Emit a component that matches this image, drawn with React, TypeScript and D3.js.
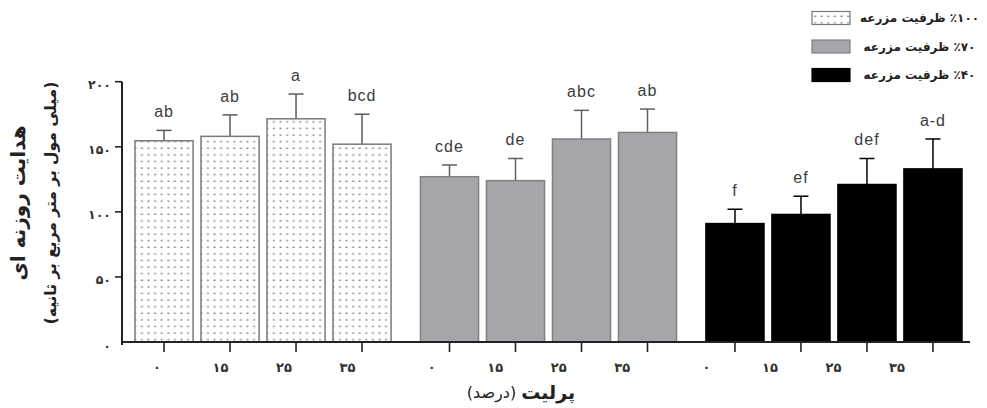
import React from "react";
import * as d3 from "d3";

// field capacity groups (legend order) and perlite levels (x ticks)
const groups = ["100", "70", "40"];
const legendLabels = ["٪۱۰۰ ظرفیت مزرعه", "٪۷۰ ظرفیت مزرعه", "٪۴۰ ظرفیت مزرعه"];
const perlite = ["0", "15", "25", "35"];
const perliteLabels = ["۰", "۱۵", "۲۵", "۳۵"];

// stomatal conductance (mmol m-2 s-1)
const mean100 = [154.6, 158, 171.5, 152];
const err100 = [8, 16.5, 19, 23];
const mean70 = [127, 124, 156, 161];
const err70 = [9, 17, 22, 18];
const mean40 = [91, 98, 121, 133];
const err40 = [11, 14, 20, 23];

const letters100 = ["ab", "ab", "a", "bcd"];
const letters70 = ["cde", "de", "abc", "ab"];
const letters40 = ["f", "ef", "def", "a-d"];

const yTicks = [0, 50, 100, 150, 200];
const yTickLabels = ["۰", "۵۰", "۱۰۰", "۱۵۰", "۲۰۰"];

const means = [mean100, mean70, mean40];
const errs = [err100, err70, err40];
const letters = [letters100, letters70, letters40];

const W = 987;
const H = 408;
const FA = "'DejaVu Sans', sans-serif";

const styles = [
  { fill: "url(#dots)", stroke: "#7a7a7a", err: "#5a5a5a" },
  { fill: "#a6a6aa", stroke: "#808084", err: "#606060" },
  { fill: "#000000", stroke: "#000000", err: "#000000" },
];

export default function App() {
  const axisX = 122;
  const y = d3.scaleLinear().domain([0, 200]).range([342, 81.7]);
  const x0 = d3.scaleBand<string>().domain(groups).range([135, 962]).paddingInner(0.103);
  const x1 = d3.scaleBand<string>().domain(perlite).range([0, x0.bandwidth()]).paddingInner(0.12);
  const bw = x1.bandwidth();
  const center = (g: string, p: string) => (x0(g) as number) + (x1(p) as number) + bw / 2;

  // tick labels in the figure sit on a slightly tighter spacing than the bars
  const c0 = center(groups[0], perlite[0]);
  const c1 = center(groups[2], perlite[3]);
  const labelX = d3.scaleLinear().domain([c0, c1]).range([c0 - 7, c1 - 36]);

  const y0 = y(0);

  return (
    <svg
      width={W}
      height={H}
      style={{ position: "absolute", left: 0, top: 0, background: "#fff" }}
    >
      <defs>
        <pattern id="dots" width={6.6} height={6.6} patternUnits="userSpaceOnUse">
          <rect width={6.6} height={6.6} fill="#fff" />
          <rect x={2.4} y={2.4} width={1.8} height={1.4} fill="#7c7c7c" />
        </pattern>
      </defs>

      {/* bars */}
      {groups.map((g, gi) =>
        perlite.map((p, i) => {
          const cx = center(g, p);
          const top = y(means[gi][i]);
          const cap = y(means[gi][i] + errs[gi][i]);
          const st = styles[gi];
          return (
            <g key={g + p}>
              <line x1={cx} x2={cx} y1={top} y2={cap} stroke={st.err} strokeWidth={1.5} />
              <line x1={cx - 7.5} x2={cx + 7.5} y1={cap} y2={cap} stroke={st.err} strokeWidth={1.5} />
              <rect
                x={(x0(g) as number) + (x1(p) as number)}
                y={top}
                width={bw}
                height={y0 - top}
                fill={st.fill}
                stroke={st.stroke}
                strokeWidth={1.5}
              />
              <text
                x={cx}
                y={cap - 13}
                textAnchor="middle"
                fontFamily="'Liberation Sans', Arial, sans-serif"
                fontSize={16}
                letterSpacing={1}
                fill="#3c3c3c"
              >
                {letters[gi][i]}
              </text>
            </g>
          );
        })
      )}

      {/* y axis */}
      <line x1={axisX} x2={axisX} y1={y(200)} y2={y0 + 3} stroke="#222" strokeWidth={2} />
      {yTicks.map((t, i) => (
        <g key={t}>
          {t > 0 && <line x1={axisX - 7} x2={axisX} y1={y(t)} y2={y(t)} stroke="#222" strokeWidth={1.6} />}
          <text
            x={axisX - 11}
            y={y(t) + 4}
            textAnchor="end"
            dominantBaseline="middle"
            fontFamily={FA}
            fontWeight="bold"
            fontSize={12.5}
            fill="#333"
          >
            {yTickLabels[i]}
          </text>
        </g>
      ))}

      {/* x axis */}
      <line x1={axisX - 1} x2={970} y1={y0} y2={y0} stroke="#222" strokeWidth={2} />
      {groups.map((g) =>
        perlite.map((p, i) => {
          const cx = center(g, p);
          return (
            <g key={"t" + g + p}>
              <line x1={cx} x2={cx} y1={y0} y2={y0 + 10} stroke="#222" strokeWidth={1.6} />
              <text
                x={labelX(cx)}
                y={y0 + 30}
                textAnchor="middle"
                fontFamily={FA}
                fontWeight="bold"
                fontSize={13}
                fill="#333"
              >
                {perliteLabels[i]}
              </text>
            </g>
          );
        })
      )}

      {/* axis titles */}
      <text
        x={521}
        y={392}
        textAnchor="middle"
        dominantBaseline="central"
        direction="rtl"
        fontFamily={FA}
        fill="#222"
      >
        <tspan fontWeight="bold" fontSize={19}>پرلیت</tspan>
        <tspan fontSize={16}> (درصد)</tspan>
      </text>
      <text
        transform="translate(18,203) rotate(-90)"
        textAnchor="middle"
        dominantBaseline="central"
        direction="rtl"
        fontFamily={FA}
        fontWeight="bold"
        fontSize={20}
        fill="#222"
      >
        هدایت روزنه ای
      </text>
      <text
        transform="translate(51,203) rotate(-90)"
        textAnchor="middle"
        dominantBaseline="central"
        direction="rtl"
        fontFamily={FA}
        fontWeight="bold"
        fontSize={15.5}
        fill="#222"
      >
        (میلی مول بر متر مربع بر ثانیه)
      </text>

      {/* legend */}
      {groups.map((g, gi) => {
        const cy = 18 + gi * 28.5;
        return (
          <g key={"lg" + g}>
            <rect
              x={812}
              y={cy - 6.5}
              width={38}
              height={13}
              fill={styles[gi].fill}
              stroke={styles[gi].stroke}
              strokeWidth={1.2}
            />
            <text
              x={919.5}
              y={cy}
              textAnchor="middle"
              dominantBaseline="central"
              direction="rtl"
              fontFamily={FA}
              fontWeight="bold"
              fontSize={12}
              fill="#222"
            >
              {legendLabels[gi]}
            </text>
          </g>
        );
      })}
    </svg>
  );
}
